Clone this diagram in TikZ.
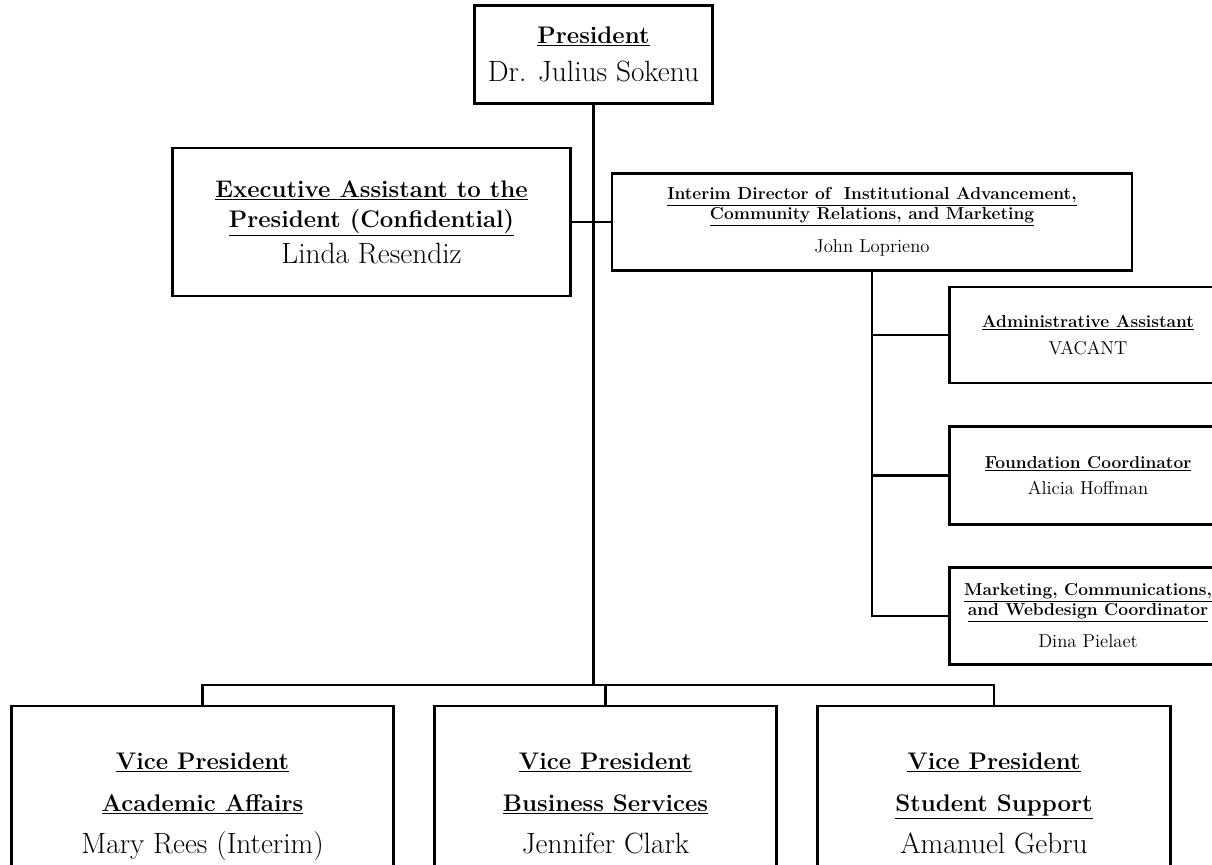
\documentclass[tikz,border=0pt]{standalone}
\usetikzlibrary{positioning}
\tikzset{box/.style={draw=black,line width=2.2pt,fill=white,align=center,inner sep=2pt},
big/.style={box,font=\fontsize{22}{24}\selectfont},
small/.style={box,font=\fontsize{14}{16}\selectfont},
link/.style={line width=2.2pt}}
\newcommand{\hd}[2]{{\fontsize{#1}{#1}\selectfont\bfseries\underline{#2}}}

\begin{document}
\begin{tikzpicture}[x=0.75pt,y=-0.75pt]
\useasboundingbox (0,0) rectangle (1212,864);
% top of the chart
\node[big,minimum width=179pt,minimum height=74pt](pres) at (593.5,54.5){\hd{18}{President}\\[5pt]Dr. Julius Sokenu};
\node[big,minimum width=299pt,minimum height=111pt](exec) at (371.5,222){\hd{18}{Executive Assistant to the}\\[-1.5pt]\hd{18}{President (Confidential)}\\[3pt]Linda Resendiz};
\node[small,minimum width=390pt,minimum height=73pt](dir) at (872,222){\hd{13}{Interim Director of\ \ Institutional Advancement,}\\[-1pt]\hd{13}{Community Relations, and Marketing}\\[9pt]John Loprieno};
% staff under the director
\node[small,minimum width=208pt,minimum height=72pt](adm) at (1088,335){\hd{13}{Administrative Assistant}\\[4pt]VACANT};
\node[small,minimum width=208pt,minimum height=73pt](fnd) at (1088,475.5){\hd{13}{Foundation Coordinator}\\[4pt]Alicia Hoffman};
\node[small,minimum width=208pt,minimum height=73pt](mkt) at (1088,616){\hd{13}{Marketing, Communications,}\\[-1pt]\hd{13}{and Webdesign Coordinator}\\[8pt]Dina Pielaet};
% vice presidents
\node[big,minimum width=286pt,minimum height=153pt](vpaa) at (202.5,808){\hd{18}{Vice President}\\[7.5pt]\hd{18}{Academic Affairs}\\[7.5pt]Mary Rees (Interim)\strut};
\node[big,minimum width=256pt,minimum height=153pt](vpbs) at (605.5,808){\hd{18}{Vice President}\\[7.5pt]\hd{18}{Business Services}\\[7.5pt]Jennifer Clark\strut};
\node[big,minimum width=265pt,minimum height=153pt](vpss) at (994,808){\hd{18}{Vice President}\\[7.5pt]\hd{18}{Student Support}\\[7.5pt]Amanuel Gebru\strut};
\coordinate (bar) at (593.5,685);
\draw[link](pres)--(bar);
\draw[link](exec)--(dir);
\draw[link](dir.south)--(dir.south|-mkt.west)--(mkt.west);
\draw[link](dir.south|-adm.west)--(adm.west);\draw[link](dir.south|-fnd.west)--(fnd.west);
\draw[link](vpaa.north)|-(bar)-|(vpss.north);\draw[link](vpbs.north)--(vpbs.north|-bar);
\end{tikzpicture}
\end{document}
